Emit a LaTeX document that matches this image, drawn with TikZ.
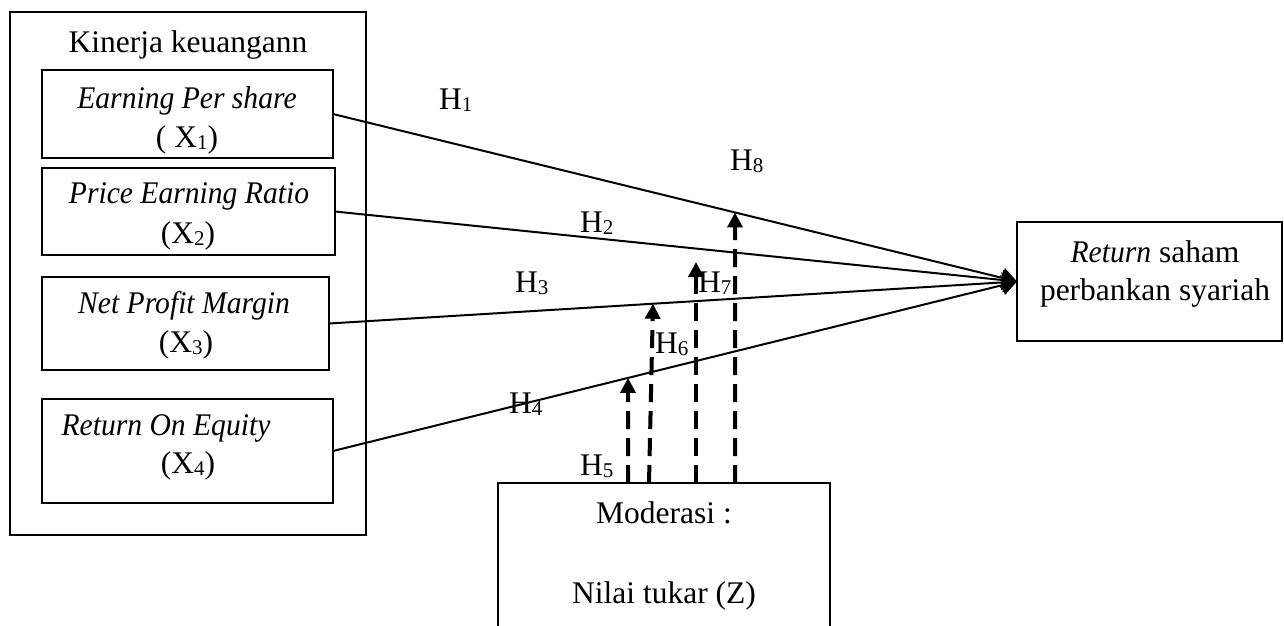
\documentclass[tikz,border=0pt]{standalone}
\usepackage{fontspec}
\setmainfont{Liberation Serif}
\usetikzlibrary{arrows.meta,calc}

% slightly condensed italic and small lowered index digits
\newcommand\itw[1]{\scalebox{0.94}[1]{\itshape #1}}
\newcommand\idx[1]{\raisebox{-2.5pt}{\fontsize{21}{21}\selectfont #1}}

\begin{document}
\begin{tikzpicture}[x=1pt,y=-1pt,
  every node/.style={font=\fontsize{31.5}{38}\selectfont},
  box/.style={draw, line width=2pt, inner sep=0pt, outer sep=0pt, anchor=north west},
  txt/.style={anchor=base, inner sep=0pt},
  hyp/.style={anchor=base west, inner sep=0pt},
  link/.style={line width=2pt, -{Triangle[length=15pt,width=20pt]}},
  modlink/.style={line width=4pt, dash pattern=on 18pt off 9pt,
                  -{Triangle[length=15pt,width=15pt]}}]
\useasboundingbox (0,0) rectangle (1284,625);
\clip (0,0) rectangle (1284,625);

% group of financial-performance indicators
\node[box, minimum width=356pt, minimum height=523pt] (kin) at (10,12) {};
\node[txt] (kintitle) at (188,52) {Kinerja keuangann};

\node[box, minimum width=291pt, minimum height=88pt]  (eps) at (42,70)  {};
\node[box, minimum width=293pt, minimum height=87pt]  (per) at (42,168) {};
\node[box, minimum width=287pt, minimum height=93pt]  (npm) at (42,277) {};
\node[box, minimum width=291pt, minimum height=104pt] (roe) at (42,399) {};

\node[txt] (epsa) at (187,108) {\itw{Earning Per share}};
\node[txt] (epsb) at (187,147) {( X\idx{1})};
\node[txt] (pera) at (189,203) {\itw{Price Earning Ratio}};
\node[txt] (perb) at (188,243) {(X\idx{2})};
\node[txt] (npma) at (184,313) {\itw{Net Profit Margin}};
\node[txt] (npmb) at (186,352) {(X\idx{3})};
\node[txt] (roea) at (166,435) {\itw{Return On Equity}};
\node[txt] (roeb) at (188,473) {(X\idx{4})};

% dependent variable
\node[box, minimum width=265pt, minimum height=119pt] (ret) at (1017,222) {};
\node[txt] (reta) at (1155,262) {\itw{Return} saham};
\node[txt] (retb) at (1155,300) {perbankan syariah};

% moderating variable
\node[box, minimum width=332pt, minimum height=170pt] (mod) at (498,483) {};
\node[txt] (moda) at (664,523) {Moderasi :};
\node[txt] (modb) at (664,603) {Nilai tukar (Z)};

% direct effects
\draw[link] (eps.east) -- (ret.west);
\draw[link] (per.east) -- (ret.west);
\draw[link] (npm.east) -- (ret.west);
\draw[link] (roe.east) -- (ret.west);

% moderation arrows
\coordinate (m5) at (628,483);
\coordinate (m6) at (649,483);
\coordinate (m7) at (696,483);
\coordinate (m8) at (735,483);
\coordinate (t7) at (696,262);
\draw[modlink] (m5) -- (intersection of roe.east--ret.west and 628,0--628,600);
\draw[modlink] (m6) -- (intersection of npm.east--ret.west and 653,0--653,600);
\draw[modlink] (m7) -- (t7);
\draw[modlink] (m8) -- (intersection of eps.east--ret.west and 735,0--735,600);

% hypothesis labels
\node[hyp] (h1) at (439,109) {H\idx{1}};
\node[hyp] (h2) at (580,232) {H\idx{2}};
\node[hyp] (h3) at (515,292) {H\idx{3}};
\node[hyp] (h4) at (509,413) {H\idx{4}};
\node[hyp] (h5) at (580,475) {H\idx{5}};
\node[hyp] (h6) at (655,353) {H\idx{6}};
\node[hyp] (h7) at (698,292) {H\idx{7}};
\node[hyp] (h8) at (730,170) {H\idx{8}};
\end{tikzpicture}
\end{document}
